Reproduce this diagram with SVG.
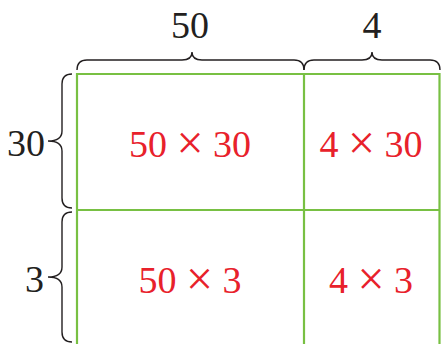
<svg xmlns="http://www.w3.org/2000/svg" width="443" height="344" viewBox="0 0 443 344">
<style>
.grid{stroke:#78c043;stroke-width:2.2;fill:none}
.brace{stroke:#231f20;stroke-width:1.4;fill:none}
.lbl{font-family:"Liberation Serif","Times New Roman",serif;font-size:38px;fill:#231f20}
.cell{font-family:"Liberation Serif","Times New Roman",serif;font-size:38px;fill:#e8212b;text-anchor:middle}
.x{font-size:48px}
</style>
<rect width="443" height="344" fill="#ffffff"/>
<g id="grid">
<path class="grid" d="M77,346 V74 H439.5 V346 M304,74 V346 M77,210 H439.5"/>
</g>
<g id="connectors">
<path id="brace-top-50" class="brace" d="M77,70 Q77,60 87,60 L182,60 Q192,60 192,52 Q192,60 202,60 L294,60 Q304,60 304,70"/>
<path id="brace-top-4" class="brace" d="M304,70 Q304,60 314,60 L362,60 Q372,60 372,52 Q372,60 382,60 L430,60 Q440,60 440,70"/>
<path id="brace-left-30" class="brace" d="M72,74 Q62,74 62,84 L62,131 Q62,141 48,141 Q62,141 62,151 L62,198 Q62,208 72,208"/>
<path id="brace-left-3" class="brace" d="M72,212 Q62,212 62,222 L62,267 Q62,277 48,277 Q62,277 62,287 L62,332 Q62,342 72,342"/>
</g>
<g id="label-50"><text class="lbl" x="190" y="38" text-anchor="middle">50</text></g>
<g id="label-4"><text class="lbl" x="372" y="38" text-anchor="middle">4</text></g>
<g id="label-30"><text class="lbl" x="45" y="156" text-anchor="end">30</text></g>
<g id="label-3"><text class="lbl" x="44" y="292" text-anchor="end">3</text></g>
<g id="cell-50x30"><text class="cell" x="190" y="157">50 <tspan class="x" dy="2">×</tspan><tspan dy="-2"> 30</tspan></text></g>
<g id="cell-4x30"><text class="cell" x="371" y="157">4 <tspan class="x" dy="2">×</tspan><tspan dy="-2"> 30</tspan></text></g>
<g id="cell-50x3"><text class="cell" x="190" y="293">50 <tspan class="x" dy="2">×</tspan><tspan dy="-2"> 3</tspan></text></g>
<g id="cell-4x3"><text class="cell" x="371" y="293">4 <tspan class="x" dy="2">×</tspan><tspan dy="-2"> 3</tspan></text></g>
</svg>
